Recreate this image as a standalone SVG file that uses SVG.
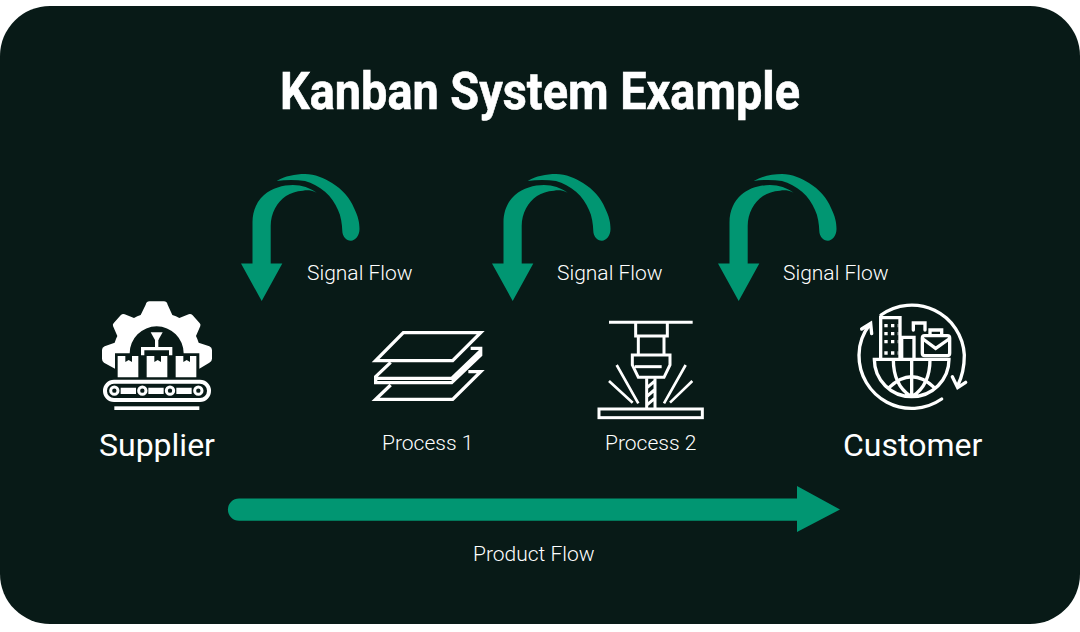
<svg xmlns="http://www.w3.org/2000/svg" width="1080" height="632" viewBox="0 0 1080 632">
<style>
.t{font-family:Roboto,"Liberation Sans",sans-serif;fill:#fff}
.l{font-weight:300;font-size:21px}
.b{font-weight:400;font-size:32px}
.g{fill:#019672}
.ln{fill:none;stroke:#fff;stroke-linejoin:miter}
.bg{fill:#081a17}
.w{fill:#fff}
</style>
<defs>
<g id="signal">
<path class="g" d="M241 263.500H252.500V222C252.500 211 257 201 264 195C272 188 283 185 293 185C302 185 310 188 316.700 192.700C311 190 307 190 303 190.700C296 191 291 193 286 196C277 202 270.700 213 270.700 226V263.500H282.300L261.700 301Z"/>
<path class="g" d="M276.700 181C285 176 295 174 305 174C315 174 324 178 332 183C342 189 350 198 354 208C358 216 359.500 222 359.500 229C359.500 236 355 240.700 351 240.700C346 240.700 342.300 236 342.300 231C342 224 341 216 338 210C335 203 331 197 325 191.700C319 187 312 183 305 181C296 179.500 286 179.500 276.700 181Z"/>
</g>
</defs>
<rect width="1080" height="632" fill="#fff"/>
<rect x="0" y="6" width="1080" height="618" rx="50" class="bg"/>
<text id="title" class="t" x="280" y="109" font-size="52" font-weight="700" stroke="#fff" stroke-width=".6" textLength="520" lengthAdjust="spacingAndGlyphs">Kanban System Example</text>

<g id="connectors">
<use href="#signal"/>
<use href="#signal" x="251"/>
<use href="#signal" x="477"/>
<path class="g" d="M239 498.500H797V486L840 509.500L797 532V520.700H239A11.100 11.100 0 0 1 239 498.500Z"/>
</g>
<g id="connector-labels">
<text class="t l" x="307" y="280">Signal Flow</text>
<text class="t l" x="557" y="280">Signal Flow</text>
<text class="t l" x="783" y="280">Signal Flow</text>
<text class="t l" x="473" y="561">Product Flow</text>
</g>

<g id="supplier">
<g transform="translate(80 290) scale(.33333)">
<path class="w" d="M105 236L72 218Q66 214 66 206V180Q66 172 74 169L104 158Q108 146 112 138L99 108Q97 102 102 98L122 76Q128 70 134 73L162 84Q172 78 182 75L197 44Q200 34 208 34H252Q260 34 263 44L277 75Q288 78 298 84L326 73Q332 70 338 76L358 98Q363 102 361 108L348 138Q352 146 356 158L388 169Q396 172 396 180V206Q396 214 388 218L358 236V190H311A81 81 0 0 0 149 190H105Z"/>
<path class="w" d="M113 198H136V216L146 210L156 216V198H175V262H113ZM200 198H223V216L233 210L243 216V198H262V262H200ZM287 198H310V216L320 210L330 216V198H349V262H287Z"/>
<path class="ln" stroke-width="10" d="M188 196V176H272V196M230 176V146"/>
<path class="w" d="M212 127H248L235 150H225Z"/>
<rect class="ln" x="75" y="275" width="312" height="55" rx="27" stroke-width="12"/>
<path class="w" d="M122 293H168V312H122ZM205 293H251V312H205ZM289 293H335V312H289Z"/>
<g class="ln" stroke-width="9"><circle cx="103" cy="302" r="11"/><circle cx="187" cy="302" r="11"/><circle cx="270" cy="302" r="11"/><circle cx="355" cy="302" r="11"/></g>
<rect class="w" x="103" y="349" width="255" height="11"/>
</g>
</g>
<text class="t b" x="99" y="456">Supplier</text>

<g id="process-1">
<g transform="translate(360 310) scale(.33333)" class="ln" stroke-width="10">
<path d="M130 68H362L278 152H47Z"/>
<path d="M92 157L47 200V218H275L362 135V115H332M47 205H275L362 122"/>
<path d="M92 225L47 268H278L362 185H325"/>
</g>
</g>
<text class="t l" x="382" y="450">Process 1</text>

<g id="process-2">
<g transform="translate(590 310) scale(.33333)" class="ln" stroke-width="9">
<path d="M57 37H308"/>
<path d="M137 37V78H232V37M145 78V135M222 78V135"/>
<path d="M127 135H240V165L222 202H145L127 165Z"/>
<path d="M135 170H215"/>
<path d="M170 205V295M195 205V295M172 232L193 214M172 258L193 240M172 284L193 266"/>
<rect x="27" y="297" width="310" height="26"/>
<path stroke-width="8" d="M80 165L145 280M57 213L128 278M287 165L222 280M307 213L240 278"/>
</g>
</g>
<text class="t l" x="605" y="450">Process 2</text>

<g id="customer">
<g transform="translate(845 295) scale(.33333)" class="ln" stroke-width="10" stroke-linecap="round">
<path d="M108 60A158 158 0 0 1 358 180Q358 232 338 272M322 245L338 278L362 262"/>
<path d="M290 312A158 158 0 0 1 42 180Q42 130 75 88M50 102L77 85L80 116"/>
<path d="M107 190V68H165V190M170 190V127H207V190M205 105V84H240V105"/>
<rect x="232" y="122" width="82" height="60" rx="7"/>
<path d="M234 132L272 160L312 132M255 120V105H290V120"/>
<path d="M88 193H312A112 112 0 0 1 88 193ZM200 193V303M145 193Q145 270 196 303M255 193Q255 270 204 303M132 278Q200 212 268 278"/>
<path stroke-width="10" stroke-dasharray="10 10" stroke-linecap="butt" d="M118 92H160M118 116H160M118 140H160M118 174H160"/>
</g>
</g>
<text class="t b" x="843" y="456">Customer</text>
</svg>
